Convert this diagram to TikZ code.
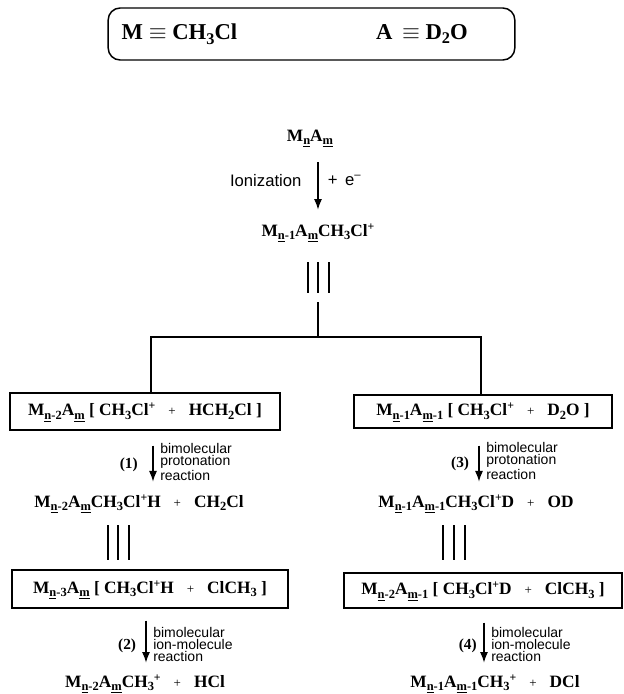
\documentclass[tikz,border=0pt]{standalone}
\usepackage{fontspec}
\setmainfont{Liberation Serif}
\setsansfont{Liberation Sans}
\usetikzlibrary{arrows.meta,positioning}

\newcommand{\dn}[1]{\raisebox{-0.45ex}{\scalebox{0.72}{#1}}}
\newcommand{\up}[1]{\raisebox{0.75ex}{\scalebox{0.68}{#1}}}
\newcommand{\pl}{\hspace{0.75em}{\mdseries\scalebox{0.75}{+}}\hspace{0.75em}}
\newcommand{\un}{\underline{n}}
\newcommand{\um}{\underline{m}}

\begin{document}
\begin{tikzpicture}[x=0.75pt,y=-0.75pt,>={Latex[length=8pt,width=6pt]},
  chem/.style={font=\bfseries\fontsize{13}{15}\selectfont,inner sep=1pt,text height=9.5pt,text depth=3pt},
  chembox/.style={chem,draw,line width=0.9pt,inner sep=0pt},
  note/.style={font=\sffamily\fontsize{10.5}{9}\selectfont,align=left,inner sep=1pt},
  stepno/.style={font=\bfseries\fontsize{11.5}{13}\selectfont,inner sep=1pt},
  rx/.style={->,line width=0.9pt},
  link/.style={line width=0.9pt}]
\useasboundingbox (0,0) rectangle (624,694);

% key
\node[draw,line width=1.1pt,rounded corners=9pt,minimum width=305pt,minimum height=39pt] (key) at (311.5,34) {};
\node[font=\bfseries\fontsize{17}{19}\selectfont,anchor=west] (keyM) at (117,34) {M $\equiv$ CH\dn{3}Cl};
\node[font=\bfseries\fontsize{17}{19}\selectfont] (keyA) at (422,34) {A \,$\equiv$ D\dn{2}O};

% ionization
\node[chem] (MA) at (310,137) {M\dn{\un}A\dn{\um}};
\node[chem] (ion) at (318,232) {M\dn{\un-1}A\dn{\um}CH\dn{3}Cl\up{+}};
\draw[rx,shorten <=11.5pt,shorten >=9.3pt] ([xshift=6pt]MA.south) -- (ion.north)
  node[midway,left=11pt,yshift=3pt,note,font=\sffamily\fontsize{12.5}{14}\selectfont] {Ionization}
  node[midway,right=6pt,yshift=3pt,note,font=\sffamily\fontsize{12.5}{14}\selectfont] {+\, e\up{--}};
\foreach \dx in {-10,0,11}
  \draw[link] (318+\dx,262) -- (318+\dx,293);

% branches
\node[chembox,minimum width=202.5pt,minimum height=27.75pt] (L1) at (145,411.5)
  {M\dn{\un-2}A\dn{\um} [ CH\dn{3}Cl\up{+}\pl HCH\dn{2}Cl ]};
\node[chembox,minimum width=193.5pt,minimum height=24.75pt] (R1) at (483,411.5)
  {M\dn{\un-1}A\dn{\um-1} [ CH\dn{3}Cl\up{+}\pl D\dn{2}O ]};
\coordinate (stem) at (318,302);
\coordinate (split) at (318,337);
\draw[link] (stem) -- (split);
\draw[link] (split) -| ([xshift=4.5pt]L1.north);
\draw[link] (split) -| ([xshift=-1.5pt]R1.north);

% left side
\node[chem] (P1) at (139,503) {M\dn{\un-2}A\dn{\um}CH\dn{3}Cl\up{+}H\pl CH\dn{2}Cl};
\draw[rx,shorten <=11.25pt,shorten >=8.6pt] ([xshift=6pt]L1.south) -- ([xshift=10.5pt]P1.north)
  node[midway,left=10pt,yshift=-2pt,stepno] {(1)}
  node[midway,right=4pt,note] {bimolecular\\protonation\\reaction};
\foreach \x in {108,118,129}
  \draw[link] (\x,525) -- (\x,560);
\node[chembox,minimum width=207pt,minimum height=28.5pt] (L2) at (150,589)
  {M\dn{\un-3}A\dn{\um} [ CH\dn{3}Cl\up{+}H\pl ClCH\dn{3} ]};
\node[chem] (P2) at (145,683) {M\dn{\un-2}A\dn{\um}CH\dn{3}\up{+}\pl HCl};
\draw[rx,shorten <=9pt,shorten >=7.8pt] ([xshift=-3pt]L2.south) -- ([xshift=0.75pt]P2.north)
  node[midway,left=6pt,yshift=-4pt,stepno] {(2)}
  node[midway,right=4pt,yshift=-2.5pt,note] {bimolecular\\ion-molecule\\reaction};

% right side
\node[chem] (Q1) at (476,503) {M\dn{\un-1}A\dn{\um-1}CH\dn{3}Cl\up{+}D\pl OD};
\draw[rx,shorten <=12.75pt,shorten >=8.6pt] ([xshift=-3pt]R1.south) -- ([xshift=2.25pt]Q1.north)
  node[midway,left=6pt,yshift=-2pt,stepno] {(3)}
  node[midway,right=4pt,note] {bimolecular\\protonation\\reaction};
\foreach \x in {443,454,465}
  \draw[link] (\x,525) -- (\x,560);
\node[chembox,minimum width=208.5pt,minimum height=26.25pt] (R2) at (483,590.5)
  {M\dn{\un-2}A\dn{\um-1} [ CH\dn{3}Cl\up{+}D\pl ClCH\dn{3} ]};
\node[chem] (Q2) at (495,683) {M\dn{\un-1}A\dn{\um-1}CH\dn{3}\up{+}\pl DCl};
\draw[rx,shorten <=10.5pt,shorten >=7.8pt] ([xshift=0.75pt]R2.south) -- ([xshift=-8.25pt]Q2.north)
  node[midway,left=4pt,yshift=-4pt,stepno] {(4)}
  node[midway,right=4pt,yshift=-2.5pt,note] {bimolecular\\ion-molecule\\reaction};
\end{tikzpicture}
\end{document}
